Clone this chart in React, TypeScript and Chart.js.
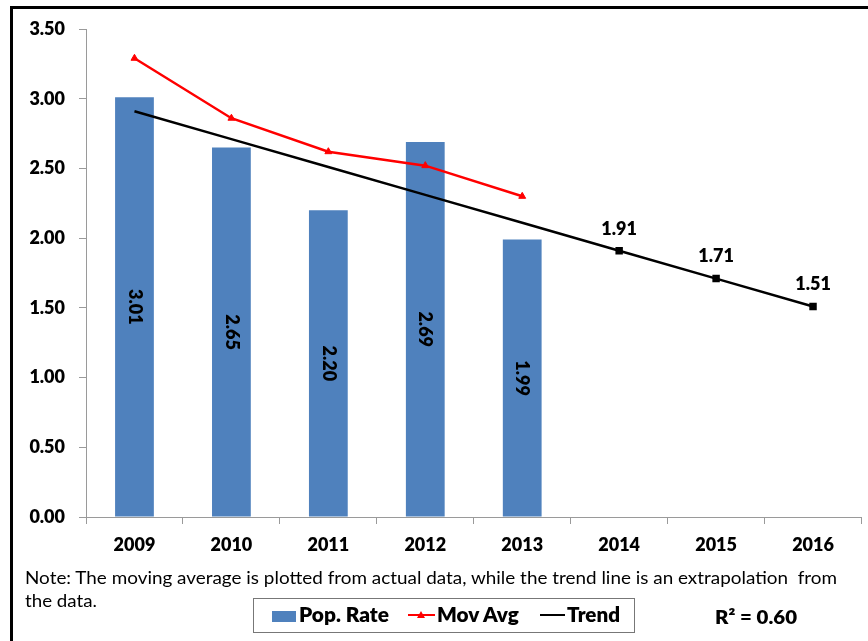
import React, { useEffect, useRef } from "react";
import { Chart, registerables } from "chart.js";

Chart.register(...registerables);

const categories = ["2009", "2010", "2011", "2012", "2013", "2014", "2015", "2016"];
const popRate = [3.01, 2.65, 2.2, 2.69, 1.99, null, null, null];
const movAvg = [3.29, 2.86, 2.62, 2.52, 2.3, null, null, null];
const trend = [2.91, 2.71, 2.51, 2.31, 2.11, 1.91, 1.71, 1.51];
const labelledTrendYears = ["2014", "2015", "2016"];
const yTicks = [0, 0.5, 1, 1.5, 2, 2.5, 3, 3.5];
const noteText =
  "Note: The moving average is plotted from actual data, while the trend line is an extrapolation\u00a0 from";
const noteText2 = "the data.";
const rSquaredText = "R\u00b2 = 0.60";
const legendLabels = ["Pop. Rate", "Mov Avg", "Trend"];

const FONT = "Lato, 'Open Sans', sans-serif";
const BLUE = "#4F81BD";
const RED = "#FF0000";
const WEIGHT = 800;

function measure(text: string, font: string) {
  const c = document.createElement("canvas");
  const ctx = c.getContext("2d")!;
  ctx.font = font;
  return ctx.measureText(text).width;
}

function FitText(props: { text: string; left: number; top: number; width: number; size: number; weight: number | string }) {
  const font = `${props.weight} ${props.size}px ${FONT}`;
  const w = measure(props.text, font) || props.width;
  const k = props.width / w;
  return (
    <div
      style={{
        position: "absolute",
        left: props.left,
        top: props.top,
        fontSize: props.size,
        fontWeight: props.weight as any,
        lineHeight: 1,
        whiteSpace: "pre",
        transform: `scaleX(${k})`,
        transformOrigin: "left center",
        color: "#000",
      }}
    >
      {props.text}
    </div>
  );
}

const labelPlugin = {
  id: "valueLabels",
  afterDatasetsDraw(chart: any) {
    const ctx = chart.ctx;
    ctx.save();
    ctx.fillStyle = "#000";
    ctx.font = `${WEIGHT} 18px ${FONT}`;
    ctx.textAlign = "center";
    ctx.textBaseline = "middle";
    const barMeta = chart.getDatasetMeta(0);
    barMeta.data.forEach((el: any, i: number) => {
      const v = popRate[i];
      if (v == null) return;
      const cy = (el.y + el.base) / 2;
      ctx.save();
      ctx.translate(el.x, cy);
      ctx.rotate(Math.PI / 2);
      ctx.fillText(v.toFixed(2), 0, 0);
      ctx.restore();
    });
    const trendMeta = chart.getDatasetMeta(2);
    trendMeta.data.forEach((el: any, i: number) => {
      if (!labelledTrendYears.includes(categories[i])) return;
      ctx.fillText(trend[i].toFixed(2), el.x, el.y - 22);
    });
    ctx.restore();
  },
};

export default function App() {
  const ref = useRef<HTMLCanvasElement>(null);
  useEffect(() => {
    if (!ref.current) return;
    const chart = new Chart(ref.current, {
      type: "bar",
      data: {
        labels: categories,
        datasets: [
          {
            type: "bar",
            label: legendLabels[0],
            data: popRate as any,
            backgroundColor: BLUE,
            barPercentage: 0.4,
            categoryPercentage: 1,
            order: 3,
          },
          {
            type: "line",
            label: legendLabels[1],
            data: movAvg as any,
            borderColor: RED,
            backgroundColor: RED,
            borderWidth: 2.5,
            pointStyle: "triangle",
            pointRadius: 4,
            pointBorderWidth: 1,
            tension: 0,
            order: 1,
          },
          {
            type: "line",
            label: legendLabels[2],
            data: trend,
            borderColor: "#000",
            backgroundColor: "#000",
            borderWidth: 2.5,
            pointStyle: "rect",
            pointRadius: categories.map((c) => (labelledTrendYears.includes(c) ? 3.5 : 0)),
            tension: 0,
            order: 2,
          },
        ],
      },
      options: {
        animation: false,
        responsive: false,
        maintainAspectRatio: false,
        layout: { padding: { top: 29, right: 5, left: 0, bottom: 0 } },
        plugins: {
          legend: { display: false },
          tooltip: { enabled: false },
        },
        scales: {
          x: {
            offset: true,
            grid: { drawOnChartArea: false, drawTicks: true, tickLength: 7, color: "#9a9a9a", offset: true },
            border: { display: true, color: "#9a9a9a" },
            ticks: { color: "#000", font: { family: FONT, size: 18, weight: WEIGHT as any }, padding: 10, maxRotation: 0 },
            afterFit: (s: any) => {
              s.height = 124;
            },
          },
          y: {
            min: 0,
            max: 3.5,
            afterBuildTicks: (s: any) => {
              s.ticks = yTicks.map((v) => ({ value: v }));
            },
            grid: { drawOnChartArea: false, drawTicks: true, tickLength: 7, color: "#9a9a9a" },
            border: { display: true, color: "#9a9a9a" },
            ticks: {
              color: "#000",
              font: { family: FONT, size: 18, weight: WEIGHT as any },
              padding: 14,
              callback: (v: any) => Number(v).toFixed(2),
            },
            afterFit: (s: any) => {
              s.width = 86;
            },
          },
        },
      },
      plugins: [labelPlugin],
    });
    return () => chart.destroy();
  }, []);

  return (
    <div style={{ position: "fixed", left: 0, top: 0, width: 868, height: 641, background: "#fff", overflow: "hidden", fontFamily: FONT }}>
      <div
        style={{
          position: "absolute",
          left: 10,
          top: 6,
          width: 900,
          height: 700,
          borderLeft: "3px solid #000",
          borderTop: "3px solid #000",
          boxSizing: "border-box",
        }}
      />
      <canvas ref={ref} width={868} height={641} style={{ position: "absolute", left: 0, top: 0 }} />
      <FitText text={noteText} left={25} top={568} width={813} size={18} weight={400} />
      <FitText text={noteText2} left={25} top={591} width={72} size={18} weight={400} />
      <div
        style={{
          position: "absolute",
          left: 253,
          top: 598,
          width: 382,
          height: 35,
          border: "1px solid #777",
          boxSizing: "border-box",
        }}
      />
      <div style={{ position: "absolute", left: 272, top: 611, width: 24, height: 11, background: BLUE }} />
      <FitText text={legendLabels[0]} left={299} top={604} width={90} size={20} weight={WEIGHT} />
      <div style={{ position: "absolute", left: 408, top: 614, width: 27, height: 2, background: RED }} />
      <div
        style={{
          position: "absolute",
          left: 417,
          top: 611,
          width: 0,
          height: 0,
          borderLeft: "4px solid transparent",
          borderRight: "4px solid transparent",
          borderBottom: "7px solid " + RED,
        }}
      />
      <FitText text={legendLabels[1]} left={437} top={604} width={83} size={20} weight={WEIGHT} />
      <div style={{ position: "absolute", left: 540, top: 614, width: 25, height: 2, background: "#000" }} />
      <FitText text={legendLabels[2]} left={567} top={604} width={53} size={20} weight={WEIGHT} />
      <FitText text={rSquaredText} left={715} top={607} width={82} size={19} weight={WEIGHT} />
    </div>
  );
}
